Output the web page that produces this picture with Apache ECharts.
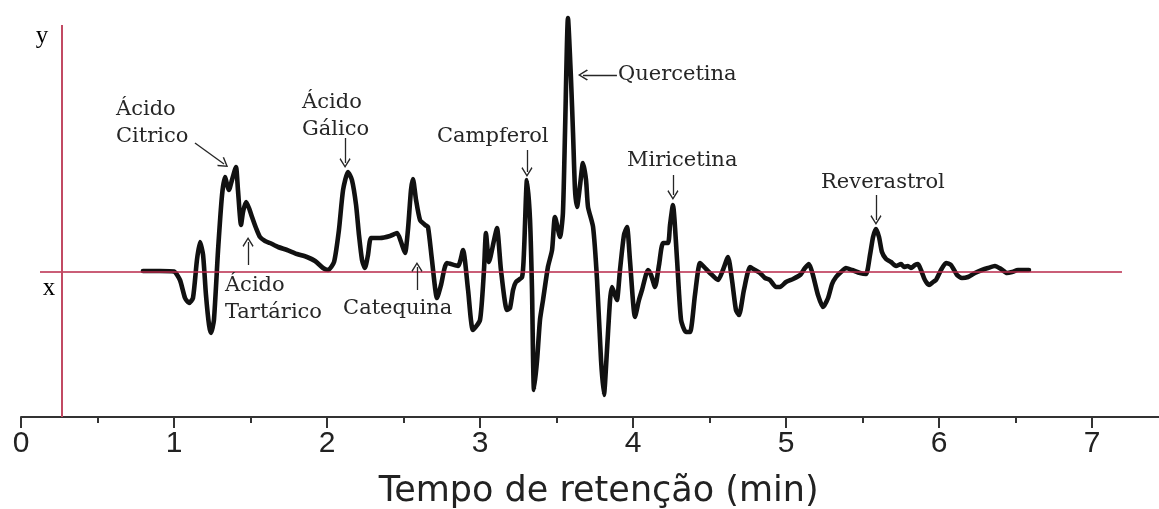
<!DOCTYPE html>
<html>
<head>
<meta charset="utf-8">
<title>Cromatograma – compostos fenólicos</title>
<script src="https://cdn.jsdelivr.net/npm/echarts@6/dist/echarts.min.js"></script>
<style>
  html, body { margin: 0; padding: 0; background: #ffffff; }
  #chart { width: 1159px; height: 509px; }
</style>
</head>
<body>
<div id="chart"></div>
<script>
// Retention time (min) and detector signal (arbitrary units) of the chromatogram trace
const retentionTime = [
  0.797,0.908,1.000,1.039,1.072,1.098,1.124,1.150,1.170,1.190,
  1.209,1.229,1.242,1.261,1.288,1.314,1.333,1.359,1.379,1.405,
  1.418,1.438,1.451,1.471,1.490,1.510,1.536,1.562,1.595,1.627,
  1.680,1.739,1.804,1.869,1.922,1.974,2.007,2.046,2.078,2.105,
  2.137,2.163,2.190,2.209,2.229,2.248,2.268,2.288,2.346,2.412,
  2.458,2.484,2.510,2.529,2.549,2.562,2.582,2.608,2.641,2.660,
  2.686,2.719,2.745,2.784,2.856,2.889,2.922,2.954,3.000,3.026,
  3.039,3.059,3.092,3.111,3.137,3.176,3.196,3.216,3.235,3.275,
  3.288,3.307,3.327,3.340,3.353,3.373,3.392,3.412,3.444,3.471,
  3.490,3.523,3.542,3.556,3.575,3.595,3.608,3.621,3.634,3.654,
  3.673,3.693,3.706,3.739,3.765,3.791,3.810,3.830,3.850,3.863,
  3.882,3.895,3.915,3.941,3.961,3.980,4.013,4.039,4.059,4.098,
  4.118,4.144,4.170,4.196,4.229,4.242,4.261,4.288,4.314,4.346,
  4.373,4.405,4.438,4.471,4.503,4.556,4.588,4.621,4.647,4.673,
  4.693,4.725,4.765,4.797,4.830,4.863,4.895,4.935,4.961,5.000,
  5.046,5.092,5.124,5.150,5.176,5.209,5.242,5.275,5.301,5.327,
  5.359,5.392,5.431,5.484,5.523,5.549,5.569,5.588,5.608,5.627,
  5.654,5.686,5.719,5.752,5.771,5.797,5.817,5.843,5.863,5.882,
  5.908,5.935,5.961,5.980,6.013,6.046,6.078,6.118,6.150,6.190,
  6.235,6.281,6.320,6.366,6.405,6.444,6.477,6.516,6.556,6.588
];
const signal = [
  0.02,0.02,0.01,-0.16,-0.52,-0.62,-0.52,0.24,0.60,0.34,
  -0.46,-1.06,-1.22,-0.96,0.44,1.54,1.90,1.64,1.84,2.10,
  1.64,0.94,1.20,1.40,1.28,1.10,0.88,0.70,0.62,0.58,
  0.50,0.44,0.36,0.30,0.22,0.08,0.04,0.20,0.84,1.64,
  2.00,1.84,1.34,0.74,0.24,0.08,0.34,0.68,0.68,0.72,
  0.78,0.60,0.38,0.84,1.64,1.86,1.44,1.04,0.94,0.90,
  0.24,-0.52,-0.26,0.18,0.12,0.44,-0.36,-1.16,-0.96,0.04,
  0.78,0.20,0.64,0.88,0.04,-0.76,-0.72,-0.36,-0.20,-0.10,
  0.44,1.84,1.04,-0.36,-2.36,-1.76,-0.96,-0.56,0.10,0.44,
  1.10,0.70,1.18,2.84,5.08,3.84,2.78,1.64,1.30,1.74,
  2.18,1.84,1.30,0.90,-0.16,-1.76,-2.46,-1.56,-0.56,-0.30,
  -0.46,-0.56,0.04,0.74,0.90,0.24,-0.90,-0.56,-0.36,0.04,
  -0.06,-0.30,0.14,0.58,0.58,0.94,1.34,0.24,-0.96,-1.20,
  -1.20,-0.46,0.18,0.08,-0.02,-0.16,0.04,0.30,-0.16,-0.76,
  -0.86,-0.36,0.10,0.04,-0.02,-0.12,-0.16,-0.30,-0.30,-0.20,
  -0.14,-0.06,0.08,0.16,-0.06,-0.46,-0.70,-0.52,-0.24,-0.10,
  0.00,0.08,0.04,-0.02,-0.04,0.34,0.70,0.86,0.70,0.40,
  0.26,0.20,0.12,0.16,0.10,0.12,0.08,0.14,0.16,0.04,
  -0.16,-0.26,-0.20,-0.16,0.04,0.18,0.14,-0.06,-0.12,-0.10,
  -0.02,0.04,0.08,0.12,0.06,-0.02,0.00,0.04,0.04,0.04
];

// Identified compounds, in elution order
const compounds = [
  'Ácido\nCitrico', 'Ácido\nTartárico', 'Ácido\nGálico', 'Catequina',
  'Campferol', 'Quercetina', 'Miricetina', 'Reverastrol'
];

// Labelled tick values on the time axis
const timeTickLabels = [0, 1, 2, 3, 4, 5, 6, 7];

// Names of the hand-drawn reference axes
const referenceAxisNames = ['y', 'x'];

// Placement of each compound label and its arrow, in (time, signal) coordinates
const annotationLayout = [
  { text: [0.621, 2.98],  from: [1.137, 2.58],  to: [1.327, 2.16] },
  { text: [1.333, -0.55], from: [1.484, 0.14],  to: [1.484, 0.60] },
  { text: [1.837, 3.11],  from: [2.118, 2.68],  to: [2.118, 2.18] },
  { text: [2.105, -0.74], from: [2.588, -0.36], to: [2.588, 0.10] },
  { text: [2.719, 2.70],  from: [3.307, 2.44],  to: [3.307, 2.00] },
  { text: [3.902, 3.94],  from: [3.895, 3.94],  to: [3.673, 3.94] },
  { text: [3.961, 2.22],  from: [4.261, 1.94],  to: [4.261, 1.54] },
  { text: [5.229, 1.78],  from: [5.588, 1.54],  to: [5.588, 1.04] }
];
// Placement of the reference axes and their names
const referenceLayout = {
  baseline: [[0.124, 0], [7.196, 0]],
  vertical: [[0.268, -2.9], [0.268, 4.94]],
  names: [[0.137, 4.72], [0.183, -0.32]]
};

const X_MIN = 0, X_MAX = 7.46, Y_MIN = -2.9, Y_MAX = 5.2;
const RED = '#b8294a';
const INK = '#262626';
const CHEVRON = 'path://M0,0 L6,9 L5,10.2 L0,2.6 L-5,10.2 L-6,9 Z';

const trace = retentionTime.map((t, i) => [t, signal[i]]);

const markLineData = [
  [
    { coord: referenceLayout.baseline[0], symbol: 'none', lineStyle: { color: RED, width: 1.5, type: 'solid' } },
    { coord: referenceLayout.baseline[1], symbol: 'none' }
  ],
  [
    { coord: referenceLayout.vertical[0], symbol: 'none', lineStyle: { color: '#c24a63', width: 2, type: 'solid' } },
    { coord: referenceLayout.vertical[1], symbol: 'none' }
  ]
].concat(annotationLayout.map(a => [
  { coord: a.from, symbol: 'none', lineStyle: { color: INK, width: 1.3, type: 'solid' } },
  { coord: a.to, symbol: CHEVRON, symbolSize: [11, 10] }
]));

const markPointData = compounds.map((name, i) => ({
  name: name,
  coord: annotationLayout[i].text
})).concat(referenceAxisNames.map((name, i) => ({
  name: name,
  coord: referenceLayout.names[i],
  label: {
    fontFamily: '"Liberation Serif", "Times New Roman", serif',
    fontSize: 25,
    color: '#000000',
    align: 'center'
  }
})));

const chart = echarts.init(document.getElementById('chart'), null, { renderer: 'canvas' });

chart.setOption({
  animation: false,
  backgroundColor: '#ffffff',
  grid: {
    left: 21,
    right: 1159 - 21 - (X_MAX - X_MIN) * 153,
    top: 12,
    bottom: 92,
    outerBoundsMode: 'none',
    containLabel: false
  },
  xAxis: [
    {
      type: 'value',
      min: X_MIN,
      max: X_MAX,
      interval: 1,
      splitLine: { show: false },
      axisLine: { onZero: false, lineStyle: { color: '#333333', width: 2 } },
      axisTick: { show: true, length: 11, lineStyle: { color: '#333333', width: 2 } },
      axisLabel: {
        show: true,
        margin: 12,
        fontFamily: '"Liberation Sans", Arial, sans-serif',
        fontSize: 30,
        color: '#222222',
        showMaxLabel: false,
        formatter: v => (timeTickLabels.indexOf(v) >= 0 ? String(v) : '')
      },
      name: 'Tempo de retenção (min)',
      nameLocation: 'middle',
      nameGap: 57,
      nameTextStyle: {
        fontFamily: '"DejaVu Sans", Verdana, sans-serif',
        fontSize: 35,
        color: '#222222',
        padding: [0, 0, 0, 14]
      }
    },
    {
      type: 'value',
      min: X_MIN,
      max: X_MAX,
      interval: 0.5,
      position: 'bottom',
      splitLine: { show: false },
      axisLine: { show: false, onZero: false },
      axisTick: { show: true, length: 6, lineStyle: { color: '#333333', width: 2 } },
      axisLabel: { show: false }
    }
  ],
  yAxis: {
    type: 'value',
    min: Y_MIN,
    max: Y_MAX,
    show: false,
    splitLine: { show: false }
  },
  series: [
    {
      name: 'Sinal',
      type: 'line',
      xAxisIndex: 0,
      data: trace,
      showSymbol: false,
      symbol: 'none',
      smooth: 0.2,
      clip: false,
      lineStyle: { color: '#111111', width: 4.6, join: 'round', cap: 'round' },
      emphasis: { disabled: true },
      markLine: {
        silent: true,
        animation: false,
        symbol: ['none', 'none'],
        label: { show: false },
        emphasis: { disabled: true },
        lineStyle: { type: 'solid' },
        data: markLineData
      },
      markPoint: {
        silent: true,
        animation: false,
        symbol: 'circle',
        symbolSize: 0,
        itemStyle: { color: 'transparent' },
        label: {
          show: true,
          position: 'inside',
          formatter: '{b}',
          align: 'left',
          verticalAlign: 'middle',
          fontFamily: '"DejaVu Serif", serif',
          fontSize: 21,
          lineHeight: 27,
          color: INK,
          textBorderWidth: 0
        },
        emphasis: { disabled: true },
        data: markPointData
      }
    }
  ]
});
</script>
</body>
</html>
